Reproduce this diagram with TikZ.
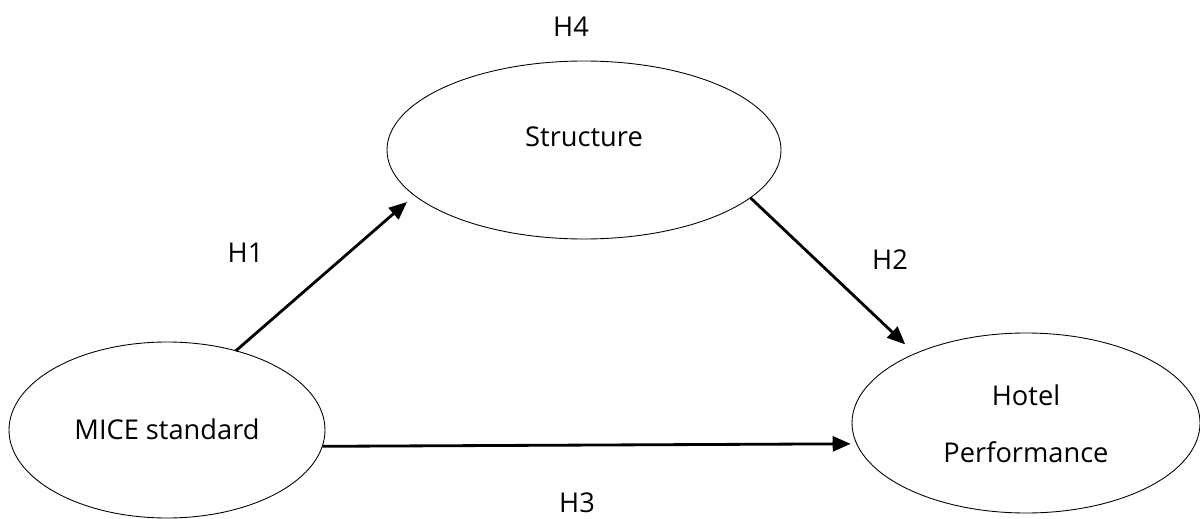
\documentclass[tikz,border=0pt]{standalone}
\usepackage{fontspec}
\setmainfont{Open Sans}
\usetikzlibrary{arrows.meta,shapes.geometric}

\tikzset{
  construct/.style={ellipse, draw=black, line width=0.5pt, inner sep=0pt, outer sep=0pt,
    font=\fontsize{15.5}{32.4}\selectfont, align=center},
  hpath/.style={line width=1.6pt, -{Triangle[length=0.36cm,width=0.3cm]}},
  hyp/.style={anchor=base, inner sep=0pt, font=\fontsize{15.5}{18}\selectfont},
}

\begin{document}
\begin{tikzpicture}
  \useasboundingbox (0,0) rectangle (24,10.36);

  % latent constructs
  \node[construct, minimum width=6.32cm, minimum height=3.52cm,
        text height=0.36cm, text depth=0cm] (mice) at (3.34,1.76) {MICE standard};
  \node[construct, minimum width=7.88cm, minimum height=3.56cm,
        text height=0.36cm, text depth=0.48cm] (structure) at (11.68,7.36) {Structure};
  \node[construct, minimum width=6.96cm, minimum height=3.60cm,
        text height=1.56cm, text depth=0cm] (hotel) at (20.52,1.90) {Hotel\\Performance};

  % hypothesised paths
  \draw[hpath, shorten >=0.2cm] (mice.49.5) -- (structure.195);
  \draw[hpath, shorten >=0.27cm] (structure.-16.6) -- (hotel.148.5);
  \draw[hpath, shorten >=0.12cm] (mice.-6.1) -- (hotel.187);

  % hypothesis labels
  \node[hyp] (h1) at (4.91,5.10) {H1};
  \node[hyp] (h2) at (17.80,4.98) {H2};
  \node[hyp] (h3) at (11.54,0.12) {H3};
  \node[hyp] (h4) at (11.42,9.62) {H4};
\end{tikzpicture}
\end{document}
